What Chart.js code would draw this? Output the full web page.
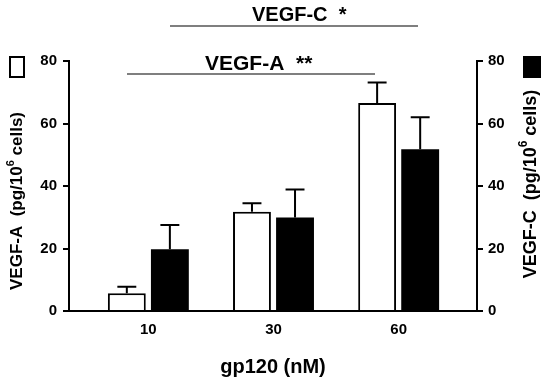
<!DOCTYPE html>
<html>
<head>
<meta charset="utf-8">
<script src="https://cdn.jsdelivr.net/npm/chart.js@4/dist/chart.umd.min.js"></script>
<style>
  html, body { margin: 0; padding: 0; background: #fff; }
  #wrap { width: 550px; height: 385px; position: relative; }
</style>
</head>
<body>
<div id="wrap"><canvas id="c" width="550" height="385"></canvas></div>
<script>
const categories = ['10', '30', '60'];
const vegfA = [5.7, 31.8, 66.6];
const vegfAErr = [2.1, 2.7, 6.5];
const vegfC = [19.8, 29.9, 51.8];
const vegfCErr = [7.7, 9.0, 10.2];
const yTickValues = [0, 20, 40, 60, 80];
const xAxisTitle = 'gp120 (nM)';
const leftTitle = ['VEGF-A  (pg/10', '6', ' cells)'];
const rightTitle = ['VEGF-C  (pg/10', '6', ' cells)'];
const sigC = 'VEGF-C  *';
const sigA = 'VEGF-A  **';

const FONT = '"Liberation Sans", Arial, Helvetica, sans-serif';

const errorBars = {
  id: 'errorBars',
  afterDatasetsDraw(chart) {
    const ctx = chart.ctx;
    const errs = [vegfAErr, vegfCErr];
    chart.data.datasets.forEach((ds, di) => {
      const meta = chart.getDatasetMeta(di);
      const yScale = chart.scales[ds.yAxisID];
      meta.data.forEach((bar, i) => {
        const v = ds.data[i].y;
        const top = yScale.getPixelForValue(v);
        const errY = yScale.getPixelForValue(v + errs[di][i]);
        const half = bar.width / 4;
        ctx.save();
        ctx.strokeStyle = '#000';
        ctx.lineWidth = 2;
        ctx.beginPath();
        ctx.moveTo(bar.x, top);
        ctx.lineTo(bar.x, errY);
        ctx.moveTo(bar.x - half, errY);
        ctx.lineTo(bar.x + half, errY);
        ctx.stroke();
        ctx.restore();
      });
    });
  }
};

function drawRotated(ctx, parts, cx, cy, size) {
  ctx.save();
  ctx.translate(cx, cy);
  ctx.rotate(-Math.PI / 2);
  const mainFont = 'bold ' + size + 'px ' + FONT;
  const supFont = 'bold ' + Math.round(size * 0.65) + 'px ' + FONT;
  ctx.font = mainFont;
  const w0 = ctx.measureText(parts[0]).width;
  const w2 = ctx.measureText(parts[2]).width;
  ctx.font = supFont;
  const w1 = ctx.measureText(parts[1]).width;
  const total = w0 + w1 + w2;
  let x = -total / 2;
  ctx.fillStyle = '#000';
  ctx.textBaseline = 'middle';
  ctx.textAlign = 'left';
  ctx.font = mainFont;
  ctx.fillText(parts[0], x, 0);
  x += w0;
  ctx.font = supFont;
  ctx.fillText(parts[1], x, -size * 0.38);
  x += w1;
  ctx.font = mainFont;
  ctx.fillText(parts[2], x, 0);
  ctx.restore();
}

const decorations = {
  id: 'decorations',
  afterDraw(chart) {
    const ctx = chart.ctx;
    // axis titles
    drawRotated(ctx, leftTitle, 17, 201, 17);
    drawRotated(ctx, rightTitle, 531, 184, 18);
    // legend squares
    ctx.save();
    ctx.fillStyle = '#fff';
    ctx.strokeStyle = '#000';
    ctx.lineWidth = 2;
    ctx.fillRect(10, 57, 14, 20);
    ctx.strokeRect(10, 57, 14, 20);
    ctx.fillStyle = '#000';
    ctx.fillRect(523, 56, 18, 22);
    // significance lines
    ctx.strokeStyle = '#555';
    ctx.lineWidth = 1.6;
    ctx.beginPath();
    ctx.moveTo(170, 26); ctx.lineTo(418, 26);
    ctx.moveTo(127, 74); ctx.lineTo(375, 74);
    ctx.stroke();
    ctx.fillStyle = '#000';
    ctx.font = 'bold 20px ' + FONT;
    ctx.textAlign = 'left';
    ctx.textBaseline = 'alphabetic';
    ctx.fillText(sigC, 252, 21);
    ctx.font = 'bold 21px ' + FONT;
    ctx.fillText(sigA, 205, 70);
    ctx.restore();
  }
};

const yCommon = {
  type: 'linear',
  min: 0,
  max: 80,
  afterBuildTicks(scale) { scale.ticks = yTickValues.map(v => ({ value: v })); },
  grid: { display: true, drawOnChartArea: false, drawTicks: true, tickLength: 6, color: '#000', lineWidth: 2 },
  border: { display: true, color: '#000', width: 2 },
  ticks: { color: '#000', font: { family: FONT, size: 15, weight: 'bold' } }
};

new Chart(document.getElementById('c'), {
  type: 'bar',
  data: {
    datasets: [
      {
        label: 'VEGF-A',
        data: vegfA.map((v, i) => ({ x: i, y: v })),
        yAxisID: 'y',
        backgroundColor: '#fff',
        borderColor: '#000',
        borderWidth: 2,
        borderSkipped: 'bottom'
      },
      {
        label: 'VEGF-C',
        data: vegfC.map((v, i) => ({ x: i, y: v })),
        yAxisID: 'y2',
        backgroundColor: '#000',
        borderColor: '#000',
        borderWidth: 0
      }
    ]
  },
  options: {
    responsive: false,
    animation: false,
    devicePixelRatio: 1,
    categoryPercentage: 0.688,
    barPercentage: 0.88,
    layout: { padding: { top: 61, left: 0, right: 0, bottom: 0 } },
    plugins: { legend: { display: false }, tooltip: { enabled: false } },
    scales: {
      x: {
        type: 'linear',
        offset: false,
        min: -0.634,
        max: 2.626,
        afterBuildTicks(scale) { scale.ticks = categories.map((c, i) => ({ value: i })); },
        afterFit(scale) { scale.height = 74; },
        grid: { display: false, drawTicks: false, offset: false },
        border: { display: true, color: '#000', width: 2 },
        ticks: {
          padding: 10,
          color: '#000',
          font: { family: FONT, size: 15, weight: 'bold' },
          callback: (v) => categories[v]
        },
        title: {
          display: true,
          text: xAxisTitle,
          color: '#000',
          font: { family: FONT, size: 20, weight: 'bold' },
          padding: { top: 0, bottom: 6 }
        }
      },
      y: Object.assign({}, yCommon, {
        position: 'left',
        afterFit(scale) { scale.width = 69; },
        ticks: Object.assign({}, yCommon.ticks, { padding: 6 })
      }),
      y2: Object.assign({}, yCommon, {
        position: 'right',
        afterFit(scale) { scale.width = 73; },
        ticks: Object.assign({}, yCommon.ticks, { padding: 5 })
      })
    }
  },
  plugins: [errorBars, decorations]
});
</script>
</body>
</html>
